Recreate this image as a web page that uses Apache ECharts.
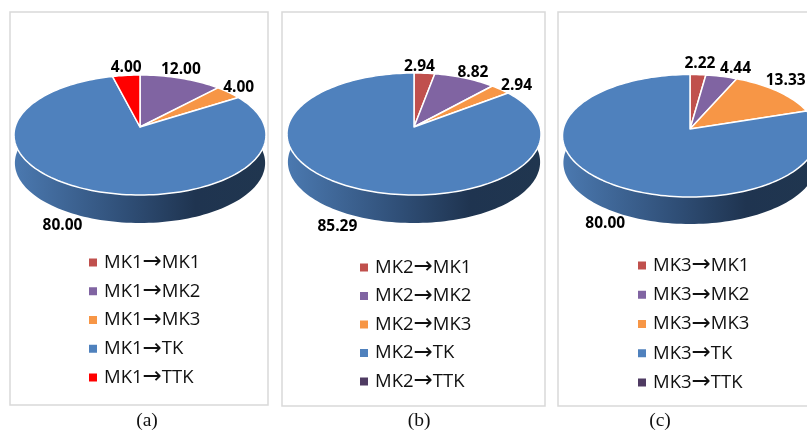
<!DOCTYPE html>
<html>
<head>
<meta charset="utf-8">
<style>
  html, body { margin: 0; padding: 0; background: #fff; }
  #chart { width: 807px; height: 431px; }
</style>
<script src="https://cdn.jsdelivr.net/npm/echarts@6/dist/echarts.min.js"></script>
</head>
<body>
<div id="chart"></div>
<script>
// 数据
const namesA = ['MK1→MK1', 'MK1→MK2', 'MK1→MK3', 'MK1→TK', 'MK1→TTK'];
const namesB = ['MK2→MK1', 'MK2→MK2', 'MK2→MK3', 'MK2→TK', 'MK2→TTK'];
const namesC = ['MK3→MK1', 'MK3→MK2', 'MK3→MK3', 'MK3→TK', 'MK3→TTK'];
const valuesA = [0, 12.00, 4.00, 80.00, 4.00];
const valuesB = [2.94, 8.82, 2.94, 85.29, 0];
const valuesC = [2.22, 4.44, 13.33, 80.00, 0];
const captions = ['(a)', '(b)', '(c)'];

const colorsA = ['#c0504d', '#8064a2', '#f79646', '#4f81bd', '#ff0000'];
const colorsBC = ['#c0504d', '#8064a2', '#f79646', '#4f81bd', '#4f3b62'];

// 面板布局
const panels = [
  {
    names: namesA, values: valuesA, colors: colorsA, caption: captions[0],
    box: [10, 12, 258, 393], captionX: 147,
    apex: [140, 127], up: 52, down: 68, rx: 126, depth: 28,
    legend: [89, 251], legendGap: 5.75, labelOffsets: [[0, 0], [0, -9], [10, -5], [-25, 36], [0, -8]]
  },
  {
    names: namesB, values: valuesB, colors: colorsBC, caption: captions[1],
    box: [282, 12, 263, 394], captionX: 419,
    apex: [414, 127], up: 54, down: 68, rx: 127, depth: 28,
    legend: [360, 256], legendGap: 5.5, labelOffsets: [[-5, -7], [8, -6], [16, -4], [-14, 40], [0, 0]]
  },
  {
    names: namesC, values: valuesC, colors: colorsBC, caption: captions[2],
    box: [558, 12, 260, 394], captionX: 660,
    apex: [690, 129], up: 54.5, down: 68, rx: 127.5, depth: 27,
    legend: [638, 254], legendGap: 6.25, labelOffsets: [[2, -11], [14, -8], [8, -11], [-3, 41], [0, 0]]
  }
];

// 把圆盘上的角度投影到透视椭圆
const makeProjection = (p) => {
  const c = (p.down - p.up) / (p.down + p.up);
  const a = p.up * (1 + c);
  const d = p.rx * Math.sqrt(1 - c * c);
  return (frac) => {
    const t = frac * Math.PI * 2;
    const u = Math.sin(t);
    const v = Math.cos(t);
    const w = 1 + c * v;
    return [p.apex[0] + d * u / w, p.apex[1] - a * v / w];
  };
};

const wallSeries = (p) => {
  const project = makeProjection(p);
  return {
    type: 'custom',
    coordinateSystem: 'none',
    silent: true,
    z: 2,
    data: [[1]],
    renderItem: () => {
      const top = [];
      const bottom = [];
      const steps = 120;
      for (let i = 0; i <= steps; i++) {
        const pt = project(0.2 + 0.6 * i / steps);
        top.push(pt);
        bottom.push([p.apex[0] + (pt[0] - p.apex[0]) * 0.993, pt[1] + p.depth]);
      }
      return {
        type: 'polygon',
        shape: { points: top.concat(bottom.reverse()) },
        style: {
          fill: new echarts.graphic.LinearGradient(0, 0, 1, 0, [
            { offset: 0, color: '#4b79b0' },
            { offset: 0.45, color: '#2f4e76' },
            { offset: 0.72, color: '#1f3450' },
            { offset: 1, color: '#20364f' }
          ])
        }
      };
    }
  };
};

const sliceSeries = (p) => {
  const project = makeProjection(p);
  const total = p.values.reduce((s, v) => s + v, 0);
  let acc = 0;
  return p.values.map((value, idx) => {
    const start = acc / total;
    acc += value;
    const end = acc / total;
    return {
      type: 'custom',
      name: p.names[idx],
      coordinateSystem: 'none',
      z: 3,
      itemStyle: { color: p.colors[idx] },
      data: [[value]],
      renderItem: (params, api) => {
        const v = api.value(0);
        if (!v) return null;
        const pts = [p.apex];
        const steps = Math.max(4, Math.ceil((end - start) * 200));
        for (let i = 0; i <= steps; i++) {
          pts.push(project(start + (end - start) * i / steps));
        }
        const rim = project((start + end) / 2);
        const off = p.labelOffsets[idx];
        return {
          type: 'group',
          children: [
            {
              type: 'polygon',
              shape: { points: pts },
              style: { fill: p.colors[idx], stroke: '#fff', lineWidth: 1.5, lineJoin: 'round' }
            },
            {
              type: 'text',
              z2: 10,
              style: {
                text: v.toFixed(2),
                x: rim[0] + off[0],
                y: rim[1] + off[1],
                align: 'center',
                verticalAlign: 'middle',
                fill: '#000',
                font: 'bold 15.5px "Open Sans", sans-serif'
              }
            }
          ]
        };
      }
    };
  });
};

const chart = echarts.init(document.getElementById('chart'), null, { renderer: 'canvas' });

const legendLabel = { fontFamily: '"Open Sans", sans-serif', fontSize: 18.5, lineHeight: 20, height: 20, color: '#111' };

chart.setOption({
  animation: false,
  backgroundColor: '#fff',
  tooltip: { show: false },
  legend: panels.map((p) => ({
    data: p.names,
    orient: 'vertical',
    left: p.legend[0],
    top: p.legend[1],
    padding: 0,
    icon: 'rect',
    itemWidth: 8,
    itemHeight: 8,
    itemGap: p.legendGap,
    selectedMode: false,
    // 箭头单独用字体，Open Sans 的箭头太小
    formatter: (name) => {
      const parts = name.split('→');
      return `{t|${parts[0]}}{a|→}{t|${parts[1]}}`;
    },
    textStyle: {
      ...legendLabel,
      padding: [0, 0, 0, 2],
      rich: {
        t: { ...legendLabel },
        a: { ...legendLabel, fontFamily: '"DejaVu Sans", sans-serif', fontSize: 23 }
      }
    }
  })),
  graphic: panels.flatMap((p) => [
    {
      type: 'rect',
      z: 0,
      shape: { x: p.box[0], y: p.box[1], width: p.box[2], height: p.box[3] },
      style: { fill: '#fff', stroke: '#d9d9d9', lineWidth: 1.5 }
    },
    {
      type: 'text',
      z: 5,
      style: {
        text: p.caption,
        x: p.captionX,
        y: 421,
        align: 'center',
        verticalAlign: 'middle',
        fill: '#111',
        font: '19.5px "Liberation Serif", serif'
      }
    }
  ]),
  series: panels.flatMap((p) => [wallSeries(p)].concat(sliceSeries(p)))
});
</script>
</body>
</html>
